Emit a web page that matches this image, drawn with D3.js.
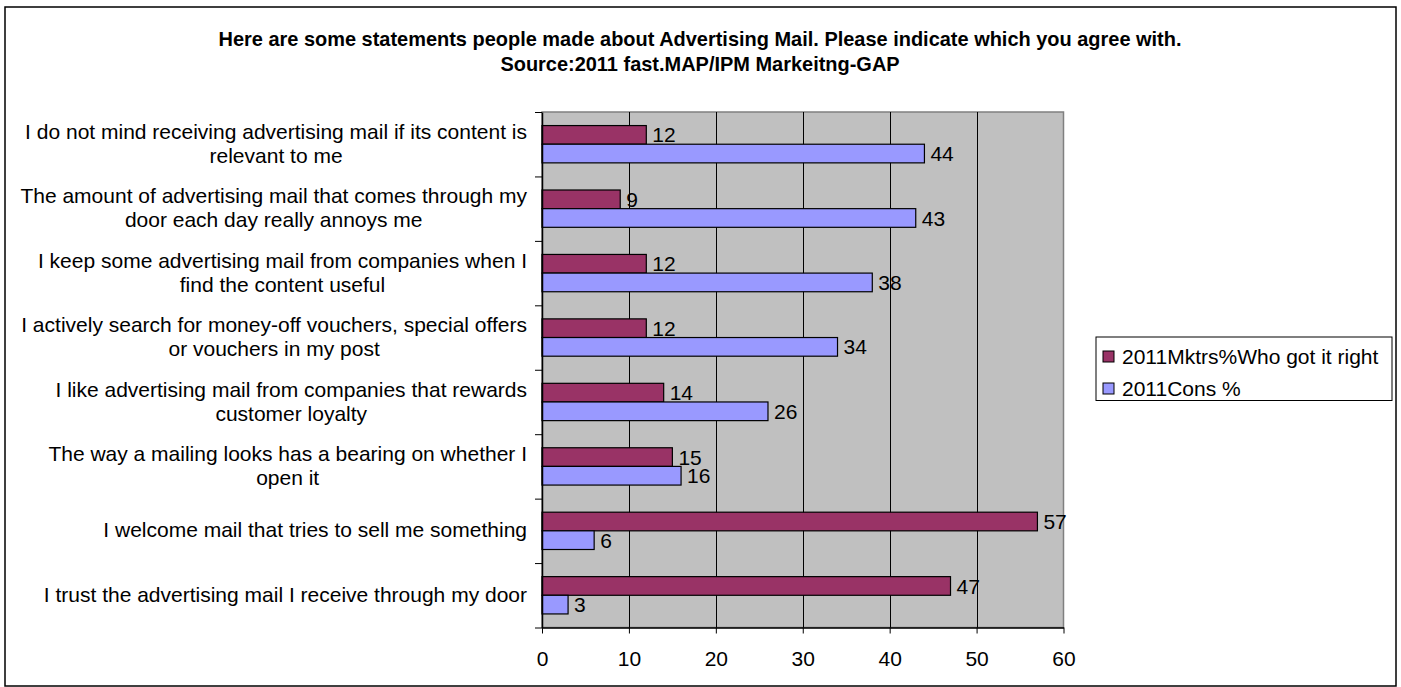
<!DOCTYPE html>
<html>
<head>
<meta charset="utf-8">
<script src="https://cdn.jsdelivr.net/npm/d3@7"></script>
<style>
  html, body { margin: 0; padding: 0; background: #fff; }
  svg { display: block; font-family: "Liberation Sans", Arial, sans-serif; }
</style>
</head>
<body>
<svg id="chart" width="1401" height="687"></svg>
<script>
// Survey statements (line breaks mark where each label wraps)
const categories = [
  "I do not mind receiving advertising mail if its content is\nrelevant to me",
  "The amount of advertising mail that comes through my\ndoor each day really annoys me",
  "I keep some advertising mail from companies when I\nfind the content useful",
  "I actively search for money-off vouchers, special offers\nor vouchers in my post",
  "I like advertising mail from companies that rewards\ncustomer loyalty",
  "The way a mailing looks has a bearing on whether I\nopen it",
  "I welcome mail that tries to sell me something",
  "I trust the advertising mail I receive through my door"
];
const seriesNames = ["2011Mktrs%Who got it right", "2011Cons %"];
const marketers = [12, 9, 12, 12, 14, 15, 57, 47];
const consumers = [44, 43, 38, 34, 26, 16, 6, 3];
const xTicks = [0, 10, 20, 30, 40, 50, 60];
const titleLines = [
  "Here are some statements people made about Advertising Mail. Please indicate which you agree with.",
  "Source:2011 fast.MAP/IPM Markeitng-GAP"
];
const colors = ["#993366", "#9999FF"];

const svg = d3.select("#chart");
const FONT = 21;

// Chart frame
svg.append("rect")
  .attr("x", 5).attr("y", 7).attr("width", 1391).attr("height", 679)
  .attr("fill", "#fff").attr("stroke", "#000").attr("stroke-width", 1.5);

// Plot geometry
const plot = { left: 542, right: 1063.5, top: 112, bottom: 627.5 };

const x = d3.scaleLinear().domain([0, 60]).range([plot.left, plot.right]);
const y = d3.scaleBand().domain(d3.range(categories.length))
  .range([plot.top, plot.bottom]).paddingInner(0).paddingOuter(0);
const ySub = d3.scaleBand().domain(d3.range(seriesNames.length))
  .range([0, y.bandwidth()]).paddingInner(0).paddingOuter(0.727);

// Plot background
svg.append("rect")
  .attr("x", plot.left).attr("y", plot.top)
  .attr("width", plot.right - plot.left).attr("height", plot.bottom - plot.top)
  .attr("fill", "#C0C0C0").attr("stroke", "#808080").attr("stroke-width", 1.5);

// Vertical gridlines
svg.append("g").selectAll("line")
  .data(xTicks.filter(v => v > 0 && v < 60))
  .join("line")
  .attr("x1", d => Math.round(x(d)) + 0.5).attr("x2", d => Math.round(x(d)) + 0.5)
  .attr("y1", plot.top).attr("y2", plot.bottom)
  .attr("stroke", "#000").attr("stroke-width", 1);

// Bars
const seriesData = [marketers, consumers];
const barsG = svg.append("g");
seriesData.forEach((vals, s) => {
  barsG.append("g").selectAll("rect")
    .data(vals)
    .join("rect")
    .attr("x", x(0))
    .attr("y", (d, i) => y(i) + ySub(s))
    .attr("width", d => x(d) - x(0))
    .attr("height", ySub.bandwidth())
    .attr("fill", colors[s])
    .attr("stroke", "#000").attr("stroke-width", 1.2);
});

// Value labels
seriesData.forEach((vals, s) => {
  svg.append("g").selectAll("text")
    .data(vals)
    .join("text")
    .attr("x", d => x(d) + 6)
    .attr("y", (d, i) => y(i) + ySub(s) + ySub.bandwidth() / 2)
    .attr("dy", "0.36em")
    .attr("font-size", FONT)
    .attr("fill", "#000")
    .text(d => d);
});

// Bottom axis
const xAxis = svg.append("g")
  .attr("transform", `translate(0,${plot.bottom})`)
  .call(d3.axisBottom(x).tickValues(xTicks).tickSize(6).tickSizeOuter(0));
xAxis.select(".domain").attr("stroke", "#000").attr("stroke-width", 1.5);
xAxis.selectAll(".tick line").attr("stroke", "#000");
xAxis.selectAll(".tick text")
  .attr("y", 24).attr("font-size", FONT).attr("font-family", "Liberation Sans, Arial, sans-serif")
  .attr("fill", "#000");

// Left axis with ticks at category boundaries
const yEdges = d3.scaleLinear().domain([0, categories.length]).range([plot.top, plot.bottom]);
const yAxis = svg.append("g")
  .attr("transform", `translate(${plot.left},0)`)
  .call(d3.axisLeft(yEdges).tickValues(d3.range(categories.length + 1)).tickSize(7).tickSizeOuter(0).tickFormat(""));
yAxis.select(".domain").attr("stroke", "#000").attr("stroke-width", 1.5);
yAxis.selectAll(".tick line").attr("stroke", "#000");

// Category labels: block right-aligned to the axis, lines centred in the block
const labelRight = 527;
const lineH = 24;
categories.forEach((cat, i) => {
  const lines = cat.split("\n");
  const g = svg.append("g");
  const texts = lines.map((ln, k) => g.append("text")
    .attr("font-size", FONT).attr("fill", "#000")
    .attr("text-anchor", "middle")
    .attr("y", y(i) + y.bandwidth() / 2 + (k - (lines.length - 1) / 2) * lineH - 1)
    .attr("dy", "0.36em")
    .text(ln));
  const w = d3.max(texts, t => t.node().getComputedTextLength());
  texts.forEach(t => t.attr("x", labelRight - w / 2));
});

// Title (condensed bold)
const titleG = svg.append("g");
const tNodes = titleLines.map((ln, k) => titleG.append("text")
  .attr("x", 700).attr("y", 46 + k * 25)
  .attr("text-anchor", "middle")
  .attr("font-size", FONT).attr("font-weight", "bold").attr("fill", "#000")
  .text(ln));
const squeeze = 963 / tNodes[0].node().getComputedTextLength();
tNodes.forEach(t => {
  const w = t.node().getComputedTextLength();
  t.attr("textLength", w * squeeze).attr("lengthAdjust", "spacingAndGlyphs");
});

// Legend
const legend = svg.append("g");
legend.append("rect")
  .attr("x", 1096).attr("y", 337).attr("width", 296).attr("height", 63.5)
  .attr("fill", "#fff").attr("stroke", "#000").attr("stroke-width", 1);
seriesNames.forEach((name, s) => {
  const cy = 356.5 + s * 32;
  legend.append("rect")
    .attr("x", 1103).attr("y", cy - 5.5).attr("width", 11).attr("height", 11)
    .attr("fill", colors[s]).attr("stroke", "#000").attr("stroke-width", 1);
  legend.append("text")
    .attr("x", 1122).attr("y", cy).attr("dy", "0.36em")
    .attr("font-size", FONT).attr("fill", "#000")
    .text(name);
});
</script>
</body>
</html>
